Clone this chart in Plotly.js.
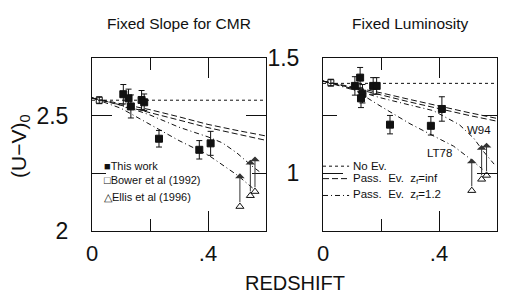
<!DOCTYPE html>
<html><head><meta charset="utf-8">
<script src="https://cdn.plot.ly/plotly-3.0.1.min.js"></script>
<style>html,body{margin:0;padding:0;background:#fff}#chart{width:509px;height:301px}</style>
</head><body><div id="chart"></div>
<script>
// ---- data ----
// Left panel: Fixed Slope for CMR
const thisZ_L = [0.108, 0.126, 0.134, 0.171, 0.180, 0.231, 0.370, 0.409];
const thisY_L = [2.593, 2.575, 2.540, 2.568, 2.558, 2.400, 2.352, 2.380];
const thisE_L = [0.042, 0.040, 0.050, 0.041, 0.036, 0.036, 0.040, 0.052];
const bowerZ_L = [0.025], bowerY_L = [2.567], bowerE_L = [0.015];
const ellisZ_L = [0.510, 0.546, 0.562];
const ellisY_L = [2.106, 2.153, 2.171];
const ellisTop_L = [2.250, 2.309, 2.323];
const modelZ = [0, 0.1, 0.2, 0.3, 0.4, 0.5, 0.6];
const noEvL = [2.567, 2.567, 2.567, 2.567, 2.567, 2.567, 2.567];
const pInfW94_L = [2.577, 2.551, 2.526, 2.495, 2.462, 2.436, 2.412];
const pInfLT78_L = [2.577, 2.546, 2.514, 2.481, 2.448, 2.420, 2.393];
const p12W94Z_L = [0, 0.1, 0.2, 0.3, 0.4, 0.45, 0.5, 0.55, 0.585];
const p12W94_L = [2.577, 2.546, 2.503, 2.450, 2.408, 2.382, 2.338, 2.283, 2.250];
const p12LT78Z_L = [0, 0.1, 0.2, 0.3, 0.4, 0.5, 0.56];
const p12LT78_L = [2.577, 2.532, 2.462, 2.392, 2.330, 2.243, 2.180];
// Right panel: Fixed Luminosity
const thisZ_R = [0.110, 0.128, 0.136, 0.131, 0.173, 0.185, 0.231, 0.372, 0.410];
const thisY_R = [1.379, 1.415, 1.345, 1.325, 1.379, 1.379, 1.211, 1.206, 1.279];
const thisE_R = [0.040, 0.044, 0.040, 0.040, 0.036, 0.036, 0.040, 0.040, 0.053];
const bowerZ_R = [0.027], bowerY_R = [1.393], bowerE_R = [0.015];
const ellisZ_R = [0.513, 0.547, 0.564];
const ellisY_R = [0.925, 0.974, 0.991];
const ellisTop_R = [1.064, 1.123, 1.133];
const noEvR = [1.390, 1.390, 1.390, 1.390, 1.390, 1.390, 1.390];
const pInfW94_R = [1.400, 1.375, 1.349, 1.320, 1.291, 1.264, 1.238];
const pInfLT78_R = [1.400, 1.371, 1.340, 1.309, 1.279, 1.252, 1.226];
const p12W94Z_R = [0, 0.1, 0.2, 0.3, 0.38, 0.47, 0.52, 0.55, 0.59];
const p12W94_R = [1.400, 1.365, 1.327, 1.296, 1.272, 1.211, 1.152, 1.100, 1.040];
const p12LT78Z_R = [0, 0.1, 0.2, 0.3, 0.4, 0.45, 0.5, 0.55];
const p12LT78_R = [1.400, 1.368, 1.290, 1.215, 1.150, 1.118, 1.070, 1.018];
// texts
const panelTitles = ["Fixed Slope for CMR", "Fixed Luminosity"];
const legendLeft = ["\u25A0This work", "\u25A1Bower et al (1992)", "\u25B3Ellis et al (1996)"];
const legendRight = ["No Ev.", "Pass.&nbsp; Ev.&nbsp; z<sub>f</sub>=inf", "Pass.&nbsp; Ev.&nbsp; z<sub>f</sub>=1.2"];
const xTickVals = [0, 0.4], xTickText = ["0", ".4"];
const yTickValsL = [2, 2.5], yTickTextL = ["2", "2.5"];
const yTickValsR = [1, 1.5], yTickTextR = ["1", "1.5"];

// ---- build ----
const K = '#111';
const FONT = 'Liberation Sans, Arial, Helvetica, sans-serif';
function line(x, y, dash, xa, ya) {
  return {x, y, type: 'scatter', mode: 'lines', xaxis: xa, yaxis: ya,
    line: {color: K, width: 1, dash}, hoverinfo: 'skip', showlegend: false};
}
function pts(x, y, e, sym, size, xa, ya) {
  const t = {x, y, type: 'scatter', mode: 'markers', xaxis: xa, yaxis: ya, showlegend: false,
    marker: {symbol: sym, size, color: K, line: {color: K, width: 1}}};
  if (e) t.error_y = {type: 'data', array: e, visible: true, color: K, thickness: 1, width: 3};
  return t;
}
const DASH = '6px,3px';
const DASHDOT = '5px,3px,1px,3px';
const traces = [];
function panel(xa, ya, d) {
  traces.push(line(modelZ, d.noEv, 'dot', xa, ya));
  traces.push(line(modelZ, d.pInfA, DASH, xa, ya));
  traces.push(line(modelZ, d.pInfB, DASH, xa, ya));
  traces.push(line(d.p12AZ, d.p12A, DASHDOT, xa, ya));
  traces.push(line(d.p12BZ, d.p12B, DASHDOT, xa, ya));
  traces.push(pts(d.tz, d.ty, d.te, 'square', 7, xa, ya));
  traces.push(pts(d.bz, d.by, d.be, 'square-open', 6, xa, ya));
  traces.push(pts(d.ez, d.ey, null, 'triangle-up-open', 7, xa, ya));
}
panel('x', 'y', {noEv: noEvL, pInfA: pInfW94_L, pInfB: pInfLT78_L, p12AZ: p12W94Z_L, p12A: p12W94_L,
  p12BZ: p12LT78Z_L, p12B: p12LT78_L, tz: thisZ_L, ty: thisY_L, te: thisE_L,
  bz: bowerZ_L, by: bowerY_L, be: bowerE_L, ez: ellisZ_L, ey: ellisY_L});
panel('x2', 'y2', {noEv: noEvR, pInfA: pInfW94_R, pInfB: pInfLT78_R, p12AZ: p12W94Z_R, p12A: p12W94_R,
  p12BZ: p12LT78Z_R, p12B: p12LT78_R, tz: thisZ_R, ty: thisY_R, te: thisE_R,
  bz: bowerZ_R, by: bowerY_R, be: bowerE_R, ez: ellisZ_R, ey: ellisY_R});

// legend samples in the right panel
const legY_R = [1.031, 0.977, 0.904];
const legDash = ['dot', DASH, DASHDOT];
legY_R.forEach((yy, i) => traces.push(line([0.0, 0.09], [yy, yy], legDash[i], 'x2', 'y2')));

const ann = [];
ellisZ_L.forEach((z, i) => ann.push({x: z, y: ellisTop_L[i], ax: z, ay: ellisY_L[i] + 0.012,
  xref: 'x', yref: 'y', axref: 'x', ayref: 'y', showarrow: true, arrowhead: 1, arrowsize: 1.6, arrowwidth: 1, arrowcolor: '#333', text: ''}));
ellisZ_R.forEach((z, i) => ann.push({x: z, y: ellisTop_R[i], ax: z, ay: ellisY_R[i] + 0.012,
  xref: 'x2', yref: 'y2', axref: 'x2', ayref: 'y2', showarrow: true, arrowhead: 1, arrowsize: 1.6, arrowwidth: 1, arrowcolor: '#333', text: ''}));
const legYL = [2.28, 2.219, 2.147];
legendLeft.forEach((t, i) => ann.push({x: 0.035, y: legYL[i], xref: 'x', yref: 'y', text: t, showarrow: false,
  xanchor: 'left', yanchor: 'middle', font: {family: FONT, size: 11, color: K}}));
legendRight.forEach((t, i) => ann.push({x: 0.095, y: legY_R[i], xref: 'x2', yref: 'y2', text: t, showarrow: false,
  xanchor: 'left', yanchor: 'middle', font: {family: FONT, size: 11.5, color: K}}));
ann.push({x: 0.539, y: 1.186, xref: 'x2', yref: 'y2', text: 'W94', showarrow: false, xanchor: 'center', yanchor: 'middle',
  font: {family: FONT, size: 11.5, color: K}});
ann.push({x: 0.400, y: 1.090, xref: 'x2', yref: 'y2', text: 'LT78', showarrow: false, xanchor: 'center', yanchor: 'middle',
  font: {family: FONT, size: 11.5, color: K}});
ann.push({x: 179 / 509, y: 1 - 24 / 301, xref: 'paper', yref: 'paper', text: panelTitles[0], showarrow: false,
  xanchor: 'center', yanchor: 'middle', font: {family: FONT, size: 15.5, color: K}});
ann.push({x: 410 / 509, y: 1 - 24 / 301, xref: 'paper', yref: 'paper', text: panelTitles[1], showarrow: false,
  xanchor: 'center', yanchor: 'middle', font: {family: FONT, size: 15.5, color: K}});
ann.push({x: 295 / 509, y: 1 - 283 / 301, xref: 'paper', yref: 'paper', text: 'REDSHIFT', showarrow: false,
  xanchor: 'center', yanchor: 'middle', font: {family: FONT, size: 20, color: K}});
ann.push({x: 20 / 509, y: 1 - 146 / 301, xref: 'paper', yref: 'paper', text: '(U\u2212V)<sub>0</sub>', textangle: -90, showarrow: false,
  xanchor: 'center', yanchor: 'middle', font: {family: FONT, size: 21, color: K}});

function xax(dom, anchor) {
  return {domain: dom, anchor, range: [0, 0.6], tickmode: 'array', tickvals: xTickVals, ticktext: xTickText,
    ticks: 'inside', ticklen: 20, tickcolor: K, tickwidth: 1, showline: true, linecolor: K, linewidth: 1,
    mirror: 'ticks', showgrid: false, zeroline: false, ticklabelstandoff: 3,
    minor: {tickmode: 'array', tickvals: [0.2], ticks: 'inside', ticklen: 12, tickcolor: K, tickwidth: 1, showgrid: false},
    tickfont: {family: FONT, size: 22, color: K}};
}
function yax(dom, anchor, range, tv, tt, minorv) {
  return {domain: dom, anchor, range, tickmode: 'array', tickvals: tv, ticktext: tt,
    ticks: 'inside', ticklen: 20, tickcolor: K, tickwidth: 1, showline: true, linecolor: K, linewidth: 1,
    mirror: 'ticks', showgrid: false, zeroline: false, ticklabelstandoff: 18,
    minor: {tickmode: 'array', tickvals: minorv, ticks: 'inside', ticklen: 14, tickcolor: K, tickwidth: 1, showgrid: false},
    tickfont: {family: FONT, size: 23, color: K}};
}
const yDom = [(301 - 231) / 301, (301 - 58) / 301];
const layout = {
  width: 509, height: 301, margin: {l: 0, r: 0, t: 0, b: 0},
  paper_bgcolor: '#fff', plot_bgcolor: '#fff', showlegend: false,
  xaxis: xax([92 / 509, 266 / 509], 'y'),
  yaxis: yax(yDom, 'x', [2, 2.75], yTickValsL, yTickTextL, [2.25]),
  xaxis2: xax([323 / 509, 497 / 509], 'y2'),
  yaxis2: yax(yDom, 'x2', [0.75, 1.5], yTickValsR, yTickTextR, [1.25]),
  annotations: ann
};
Plotly.newPlot('chart', traces, layout, {staticPlot: true});
</script></body></html>
